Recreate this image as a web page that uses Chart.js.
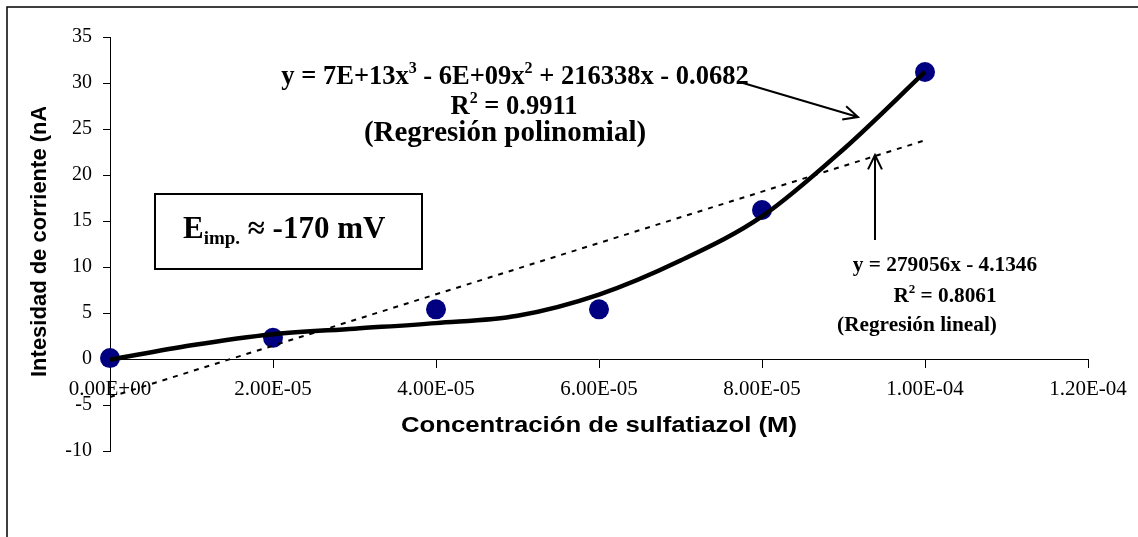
<!DOCTYPE html>
<html><head><meta charset="utf-8">
<script src="https://cdn.jsdelivr.net/npm/chart.js@4.4.0/dist/chart.umd.min.js"></script>
<style>html,body{margin:0;padding:0;background:#fff;}canvas{display:block;}</style>
</head><body>
<canvas id="c" width="1138" height="537"></canvas>
<script>
// ---- data ----
const concentration = [0, 2e-5, 4e-5, 6e-5, 8e-5, 1e-4];
const current = [0.1, 2.3, 5.4, 5.4, 16.2, 31.2];
// polynomial trendline
const polyX = [0, 1e-5, 2e-5, 3e-5, 4e-5, 5e-5, 6e-5, 7e-5, 8e-5, 9e-5, 1e-4];
const polyY = [-0.07, 1.5, 2.7, 3.3, 3.9, 4.7, 7.0, 10.7, 15.5, 22.8, 31.2];
// linear trendline end points
const linX = [0, 1e-4];
const linY = [-4.13, 23.77];
const xTickValues = [0, 2e-5, 4e-5, 6e-5, 8e-5, 1e-4, 1.2e-4];
const xTickLabels = ['0.00E+00', '2.00E-05', '4.00E-05', '6.00E-05', '8.00E-05', '1.00E-04', '1.20E-04'];
const yTicks = [-10, -5, 0, 5, 10, 15, 20, 25, 30, 35];
const xTitle = 'Concentración de sulfatiazol (M)';
const yTitle = 'Intesidad de corriente (nA)';

const SERIF = '"Liberation Serif", "Times New Roman", serif';
const SANS = '"Liberation Sans", Arial, sans-serif';

function richText(ctx, parts, x, baseline, size, align) {
  // parts: [text, mode] ; mode 0 normal, 1 superscript, 2 subscript
  const fontFor = (m) => 'bold ' + (m === 0 ? size : Math.round(size * 0.62)) + 'px ' + SERIF;
  let total = 0;
  const ws = parts.map(([t, m]) => { ctx.font = fontFor(m); const w = ctx.measureText(t).width; total += w; return w; });
  let cx = align === 'center' ? x - total / 2 : x;
  ctx.textAlign = 'left';
  ctx.textBaseline = 'alphabetic';
  parts.forEach(([t, m], i) => {
    ctx.font = fontFor(m);
    let dy = 0;
    if (m === 1) dy = -size * 0.42;
    if (m === 2) dy = size * 0.18;
    ctx.fillText(t, cx, baseline + dy);
    cx += ws[i];
  });
}

function arrow(ctx, x1, y1, x2, y2) {
  const a = Math.atan2(y2 - y1, x2 - x1);
  const L = 16, s = 0.45;
  ctx.beginPath();
  ctx.moveTo(x1, y1); ctx.lineTo(x2, y2);
  ctx.moveTo(x2 - L * Math.cos(a - s), y2 - L * Math.sin(a - s));
  ctx.lineTo(x2, y2);
  ctx.lineTo(x2 - L * Math.cos(a + s), y2 - L * Math.sin(a + s));
  ctx.stroke();
}

const annotations = {
  id: 'annotations',
  afterDraw(chart) {
    const ctx = chart.ctx;
    ctx.save();
    ctx.fillStyle = '#000';
    ctx.strokeStyle = '#000';
    // outer frame (cropped at right / bottom)
    ctx.lineWidth = 1.5;
    ctx.strokeRect(7, 7, 1300, 700);

    // axis titles
    ctx.font = 'bold 22px ' + SANS;
    ctx.textAlign = 'center'; ctx.textBaseline = 'middle';
    ctx.save();
    ctx.translate(599, 426); ctx.scale(1.17, 1);
    ctx.fillText(xTitle, 0, 0);
    ctx.restore();
    ctx.save();
    ctx.beginPath(); ctx.rect(0, 107, 200, 400); ctx.clip();
    ctx.translate(40, 377); ctx.rotate(-Math.PI / 2);
    ctx.textAlign = 'left';
    ctx.fillText(yTitle, 0, 0);
    ctx.restore();

    // polynomial label
    richText(ctx, [['y = 7E+13x', 0], ['3', 1], [' - 6E+09x', 0], ['2', 1], [' + 216338x - 0.0682', 0]], 515, 84, 26.5, 'center');
    richText(ctx, [['R', 0], ['2', 1], [' = 0.9911', 0]], 514, 114, 26.5, 'center');
    richText(ctx, [['(Regresión polinomial)', 0]], 505, 141, 29, 'center');

    // linear label
    richText(ctx, [['y = 279056x - 4.1346', 0]], 945, 271, 21.3, 'center');
    richText(ctx, [['R', 0], ['2', 1], [' = 0.8061', 0]], 945, 302, 21.3, 'center');
    richText(ctx, [['(Regresión lineal)', 0]], 917, 331, 21.3, 'center');

    // arrows
    ctx.lineWidth = 2;
    arrow(ctx, 743, 83, 858, 117);
    arrow(ctx, 875, 240, 875, 155);

    // E imp box
    ctx.lineWidth = 2;
    ctx.strokeRect(155, 194, 267, 75);
    richText(ctx, [['E', 0], ['imp.', 2], [' ≈ -170 mV', 0]], 183, 238, 31, 'left');
    ctx.restore();
  }
};

new Chart(document.getElementById('c'), {
  type: 'scatter',
  data: {
    datasets: [
      { data: polyX.map((x, i) => ({ x, y: polyY[i] })), showLine: true, borderColor: '#000', borderWidth: 4.5,
        pointRadius: 0, cubicInterpolationMode: 'monotone', fill: false },
      { data: linX.map((x, i) => ({ x, y: linY[i] })), showLine: true, borderColor: '#000', borderWidth: 2,
        borderDash: [5, 6], pointRadius: 0, fill: false },
      { data: concentration.map((x, i) => ({ x, y: current[i] })), showLine: false, pointRadius: 10, clip: false,
        pointHoverRadius: 10, backgroundColor: '#000080', borderColor: '#000080', borderWidth: 0 }
    ]
  },
  options: {
    responsive: false, animation: false,
    layout: { padding: { left: 0, top: 37, right: 50, bottom: 86 } },
    plugins: { legend: { display: false }, tooltip: { enabled: false } },
    scales: {
      x: {
        type: 'linear', min: 0, max: 1.2e-4, position: { y: 0 },
        afterBuildTicks: (s) => { s.ticks = xTickValues.map(v => ({ value: v })); },
        grid: { drawOnChartArea: false, tickLength: 8, color: '#000', tickColor: '#000' },
        border: { color: '#000', width: 1 },
        ticks: { font: { family: SERIF, size: 21 }, color: '#000', padding: 10, maxRotation: 0, autoSkip: false,
          callback: (v, i) => xTickLabels[i] }
      },
      y: {
        min: -10, max: 35,
        afterBuildTicks: (s) => { s.ticks = yTicks.map(v => ({ value: v })); },
        afterFit: (s) => { s.width = 110; },
        grid: { drawOnChartArea: false, tickLength: 7, color: '#000', tickColor: '#000' },
        border: { color: '#000', width: 1 },
        ticks: { font: { family: SERIF, size: 20 }, color: '#000', padding: 11, callback: (v) => String(v) }
      }
    }
  },
  plugins: [annotations]
});
</script>
</body></html>
